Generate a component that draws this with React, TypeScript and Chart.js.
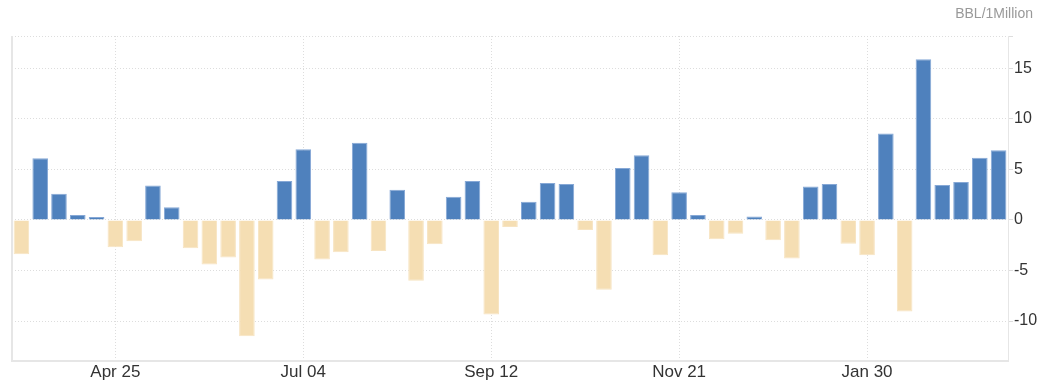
import React, { useEffect, useRef } from "react";
import { Chart, registerables } from "chart.js";

Chart.register(...registerables);

const weeks: string[] = [
  "Mar 21", "Mar 28", "Apr 04", "Apr 11", "Apr 18", "Apr 25", "May 02", "May 09", "May 16", "May 23",
  "May 30", "Jun 06", "Jun 13", "Jun 20", "Jun 27", "Jul 04", "Jul 11", "Jul 18", "Jul 25", "Aug 01",
  "Aug 08", "Aug 15", "Aug 22", "Aug 29", "Sep 05", "Sep 12", "Sep 19", "Sep 26", "Oct 03", "Oct 10",
  "Oct 17", "Oct 24", "Oct 31", "Nov 07", "Nov 14", "Nov 21", "Nov 28", "Dec 05", "Dec 12", "Dec 19",
  "Dec 26", "Jan 02", "Jan 09", "Jan 16", "Jan 23", "Jan 30", "Feb 06", "Feb 13", "Feb 20", "Feb 27",
  "Mar 06", "Mar 13", "Mar 20",
];

const changes: number[] = [
  -3.4, 6.1, 2.6, 0.5, 0.3, -2.7, -2.1, 3.4, 1.25, -2.8,
  -4.4, -3.7, -11.5, -5.9, 3.85, 7.0, -3.9, -3.2, 7.65, -3.06,
  3.0, -6.0, -2.4, 2.3, 3.85, -9.35, -0.7, 1.8, 3.65, 3.55,
  -1.0, -6.9, 5.15, 6.4, -3.5, 2.75, 0.5, -1.9, -1.35, 0.35,
  -2.0, -3.8, 3.3, 3.55, -2.35, -3.5, 8.55, -9.05, 15.9, 3.45,
  3.75, 6.15, 6.9,
];

const shownTicks: string[] = ["Apr 25", "Jul 04", "Sep 12", "Nov 21", "Jan 30"];
const yTickValues: number[] = [-10, -5, 0, 5, 10, 15];
const unitLabel = "BBL/1Million";

const POS = "#4F81BD";
const POS_EDGE = "#86A8D6";
const NEG = "#F5DEB3";
const NEG_EDGE = "#F7E4C2";
const FONT = 'Arial, "Liberation Sans", sans-serif';

export default function App() {
  const ref = useRef<HTMLCanvasElement | null>(null);

  useEffect(() => {
    if (!ref.current) return;
    const framePlugin = {
      id: "frame",
      beforeDatasetsDraw(chart: any) {
        const { ctx, chartArea } = chart;
        ctx.save();
        ctx.strokeStyle = "#e6e6e6";
        ctx.lineWidth = 2;
        ctx.beginPath();
        ctx.moveTo(chartArea.left, chartArea.top);
        ctx.lineTo(chartArea.left, chartArea.bottom);
        ctx.stroke();
        ctx.restore();
      },
      afterDraw(chart: any) {
        const { ctx, chartArea } = chart;
        ctx.save();
        ctx.font = `14px ${FONT}`;
        ctx.fillStyle = "#999999";
        ctx.textAlign = "right";
        ctx.textBaseline = "alphabetic";
        ctx.fillText(unitLabel, chartArea.right + 25, 17.5);
        ctx.restore();
      },
    };

    const chart = new Chart(ref.current, {
      type: "bar",
      data: {
        labels: weeks,
        datasets: [
          {
            data: changes,
            backgroundColor: changes.map((v) => (v >= 0 ? POS : NEG)),
            borderColor: changes.map((v) => (v >= 0 ? POS_EDGE : NEG_EDGE)),
            borderWidth: 1,
            categoryPercentage: 1,
            barPercentage: 0.83,
          },
        ],
      },
      options: {
        animation: false,
        responsive: false,
        maintainAspectRatio: false,
        layout: { padding: { left: 12, top: 36, right: 0, bottom: 0 } },
        plugins: { legend: { display: false }, tooltip: { enabled: false }, title: { display: false } },
        scales: {
          x: {
            offset: true,
            grid: {
              offset: false,
              drawTicks: false,
              color: (ctx: any) =>
                ctx.tick && shownTicks.includes(weeks[ctx.index]) ? "#dddddd" : "rgba(0,0,0,0)",
              lineWidth: 1,
            },
            border: { display: true, color: "#e6e6e6", width: 2, dash: [1, 2] },
            ticks: {
              autoSkip: false,
              maxRotation: 0,
              padding: 1,
              color: "#333333",
              font: { family: FONT, size: 17 },
              callback: (_v: any, i: number) => (shownTicks.includes(weeks[i]) ? weeks[i] : ""),
            },
            afterFit: (scale: any) => {
              scale.height = 31;
            },
          },
          y: {
            position: "right",
            min: -13.95,
            max: 18.2,
            afterBuildTicks: (scale: any) => {
              scale.ticks = [
                { value: -13.95 },
                ...yTickValues.map((v) => ({ value: v })),
                { value: 18.2 },
              ];
            },
            grid: {
              color: (ctx: any) =>
                ctx.tick && ctx.tick.value === -13.95 ? "rgba(0,0,0,0)" : "#dddddd",
              lineWidth: 1,
              tickLength: 5,
            },
            border: { display: true, color: "#e6e6e6", width: 1, dash: [1, 2] },
            ticks: {
              padding: 1,
              color: "#333333",
              font: { family: FONT, size: 16 },
              callback: (v: any) => (yTickValues.includes(v) ? String(v) : ""),
            },
            afterFit: (scale: any) => {
              scale.width = 41;
            },
          },
        },
      },
      plugins: [framePlugin],
    });
    return () => chart.destroy();
  }, []);

  return (
    <div style={{ position: "absolute", left: 0, top: 0, width: 1049, height: 392 }}>
      <canvas ref={ref} width={1049} height={392} style={{ width: 1049, height: 392 }} />
    </div>
  );
}
